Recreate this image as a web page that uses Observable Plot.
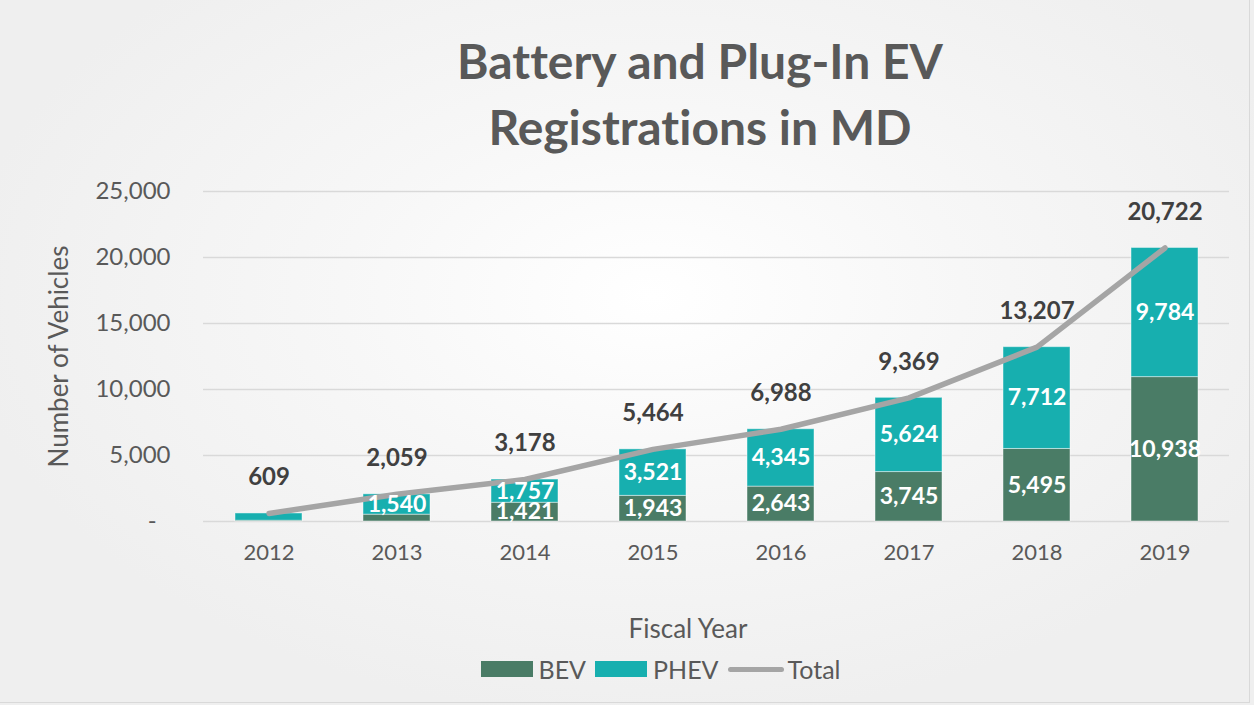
<!DOCTYPE html>
<html>
<head>
<meta charset="utf-8">
<script src="https://cdn.jsdelivr.net/npm/d3@7"></script>
<script src="https://cdn.jsdelivr.net/npm/@observablehq/plot@0.6"></script>
<style>
  html, body { margin: 0; padding: 0; }
  body {
    width: 1254px; height: 705px; overflow: hidden;
    background: radial-gradient(ellipse 55% 60% at 52% 42%, #ffffff 0%, #f7f7f7 45%, #efefef 100%);
    font-family: Lato, "Open Sans", sans-serif;
    font-variant-ligatures: none;
  }
  #frame { position: absolute; left: 0; top: 0; width: 1249px; height: 702px; border-right: 1px solid #d9d9d9; border-bottom: 1px solid #d9d9d9; }
  #title { position: absolute; left: 0; top: 28px; width: 1254px; padding-left: 146px; box-sizing: border-box; text-align: center; font-weight: bold; font-size: 48px; line-height: 66px; color: #595959; }
  #chart { position: absolute; left: 0; top: 161px; }
  #xlabel { position: absolute; left: 488px; top: 611px; width: 400px; text-align: center; font-size: 26px; line-height: 34px; color: #595959; }
  #legend { position: absolute; left: 0; top: 654px; width: 1254px; padding-left: 76px; box-sizing: border-box; display: flex; justify-content: center; align-items: center; font-size: 25px; color: #595959; }
  .sw { display: inline-block; width: 52px; height: 16px; margin-right: 6px; }
  .ln { display: inline-block; width: 56px; height: 5px; border-radius: 3px; background: #a5a5a5; margin-right: 4px; }
  .item { display: flex; align-items: center; margin-right: 9px; }
  svg text { font-variant-ligatures: none; }
</style>
</head>
<body>
<div id="frame"></div>
<div id="title">Battery and Plug-In EV<br>Registrations in MD</div>
<div id="chart"></div>
<div id="xlabel">Fiscal Year</div>
<div id="legend">
  <span class="item"><span class="sw" style="background:#4a7c66"></span>BEV</span>
  <span class="item"><span class="sw" style="background:#17afaf"></span>PHEV</span>
  <span class="item"><span class="ln"></span>Total</span>
</div>
<script>
const years = ["2012", "2013", "2014", "2015", "2016", "2017", "2018", "2019"];
const bev   = [58, 519, 1421, 1943, 2643, 3745, 5495, 10938];
const phev  = [551, 1540, 1757, 3521, 4345, 5624, 7712, 9784];
const total = [609, 2059, 3178, 5464, 6988, 9369, 13207, 20722];
const yTicks = [0, 5000, 10000, 15000, 20000, 25000];
const seriesNames = ["BEV", "PHEV"];
const seriesColors = ["#4a7c66", "#17afaf"];
// segment labels shown in the reference (2012 none, 2013 only PHEV)
const showBevLabel  = [false, false, true, true, true, true, true, true];
const showPhevLabel = [false, true, true, true, true, true, true, true];

const rows = [];
years.forEach((y, i) => {
  rows.push({year: y, type: "BEV", value: bev[i]});
  rows.push({year: y, type: "PHEV", value: phev[i]});
});
const segLabels = [];
years.forEach((y, i) => {
  if (showBevLabel[i]) segLabels.push({year: y, mid: bev[i] / 2, value: bev[i]});
  if (showPhevLabel[i]) segLabels.push({year: y, mid: bev[i] + phev[i] / 2, value: phev[i]});
});
const totals = years.map((y, i) => ({year: y, total: total[i]}));
const fmt = d3.format(",");

const chart = Plot.plot({
  width: 1254,
  height: 484,
  marginTop: 30,
  marginBottom: 124,
  marginLeft: 203,
  marginRight: 25,
  style: {fontFamily: "Lato, 'Open Sans', sans-serif", fontSize: "22px", color: "#595959", background: "transparent"},
  x: {domain: years, paddingInner: 0.48, paddingOuter: 0.24},
  y: {domain: [0, 25000]},
  color: {domain: seriesNames, range: seriesColors},
  marks: [
    Plot.ruleY(yTicks, {stroke: "#d9d9d9", strokeWidth: 1.5}),
    Plot.barY(rows, {x: "year", y: "value", fill: "type", stroke: "rgba(255,255,255,0.45)", strokeWidth: 1}),
    Plot.line(totals, {x: "year", y: "total", stroke: "#a5a5a5", strokeWidth: 5.5, strokeLinecap: "round", strokeLinejoin: "round"}),
    Plot.text(segLabels, {x: "year", y: "mid", text: d => fmt(d.value), fill: "white", fontWeight: "bold", fontSize: 23}),
    Plot.text(totals, {x: "year", y: "total", text: d => fmt(d.total), fill: "#404040", fontWeight: "bold", fontSize: 24, dy: -36}),
    Plot.axisY({ticks: yTicks, tickSize: 0, tickPadding: 33, fontSize: 24, tickFormat: d => d === 0 ? "-\u2007" : fmt(d), label: null}),
    Plot.axisY({ticks: [], tickSize: 0, fontSize: 26,
      label: "Number of Vehicles", labelAnchor: "center", labelArrow: "none", labelOffset: 154}),
    Plot.axisX({tickSize: 0, tickPadding: 23, fontSize: 22, label: null})
  ]
});
document.getElementById("chart").appendChild(chart);
</script>
</body>
</html>
